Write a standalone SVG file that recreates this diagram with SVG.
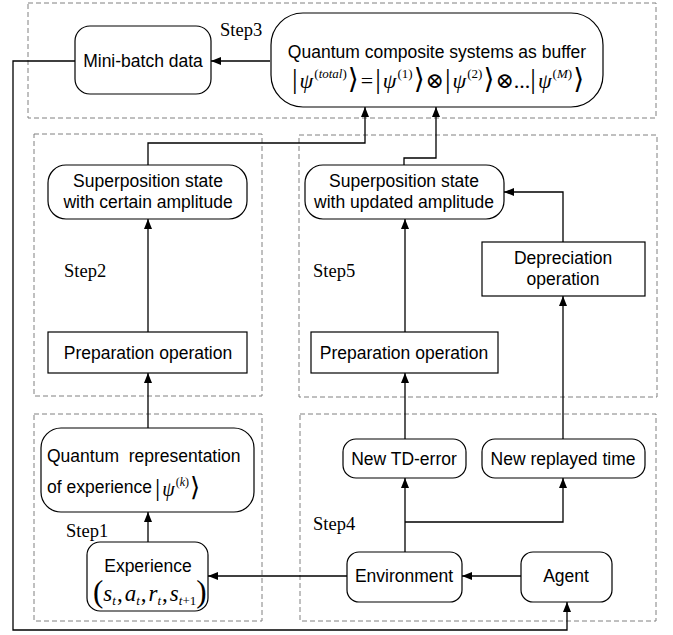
<svg xmlns="http://www.w3.org/2000/svg" width="673" height="635" viewBox="0 0 673 635">
<style>
.bg{fill:#fff}
.dash{fill:none;stroke:#808080;stroke-width:1;stroke-dasharray:5,3}
.node{fill:#fff;stroke:#000;stroke-width:1.2}
.t{font-family:"Liberation Sans",Arial,sans-serif;font-size:17.5px;fill:#000;text-anchor:middle}
.step{font-family:"Liberation Serif","Times New Roman",serif;font-size:18.5px;fill:#000}
.m{font-family:"Liberation Serif","Times New Roman","DejaVu Serif",serif;font-size:22px;fill:#000}
.i{font-style:italic}
.br{font-size:28px;font-weight:normal}
.sup{font-size:13px}
.conn{fill:none;stroke:#000;stroke-width:1.3}
</style>
<defs>
<marker id="arr" viewBox="0 0 10 8" refX="10" refY="4" markerWidth="10" markerHeight="8" markerUnits="userSpaceOnUse" orient="auto">
<path d="M0,0 L10,4 L0,8 Z" fill="#000"/>
</marker>
</defs>
<rect class="bg" x="0" y="0" width="673" height="635"/>

<g id="groups">
<rect class="dash" x="28" y="3" width="628" height="115"/>
<rect class="dash" x="34" y="134" width="228" height="262"/>
<rect class="dash" x="299" y="135" width="358" height="262"/>
<rect class="dash" x="34" y="414" width="228" height="207"/>
<rect class="dash" x="300" y="414" width="356" height="207"/>
<text class="step" x="220" y="36">Step3</text>
<text class="step" x="64" y="277">Step2</text>
<text class="step" x="313" y="277">Step5</text>
<text class="step" x="66" y="537">Step1</text>
<text class="step" x="313" y="530">Step4</text>
</g>

<g id="connectors">
<path class="conn" d="M270,61 L211,61" marker-end="url(#arr)"/>
<path class="conn" d="M75,61 L13,61 L13,630 L567,630 L567,602" marker-end="url(#arr)"/>
<path class="conn" d="M521,576 L462,576" marker-end="url(#arr)"/>
<path class="conn" d="M347,576 L208,576" marker-end="url(#arr)"/>
<path class="conn" d="M405,552 L405,478" marker-end="url(#arr)"/>
<path class="conn" d="M405,522 L563,522 L563,478" marker-end="url(#arr)"/>
<path class="conn" d="M405,439 L405,373" marker-end="url(#arr)"/>
<path class="conn" d="M405,332 L405,219" marker-end="url(#arr)"/>
<path class="conn" d="M563,439 L563,296" marker-end="url(#arr)"/>
<path class="conn" d="M563,242 L563,192 L504,192" marker-end="url(#arr)"/>
<path class="conn" d="M404,165 L404,158 L436,158 L436,107" marker-end="url(#arr)"/>
<path class="conn" d="M148,165 L148,143 L365,143 L365,107" marker-end="url(#arr)"/>
<path class="conn" d="M148,332 L148,219" marker-end="url(#arr)"/>
<path class="conn" d="M148,428 L148,373" marker-end="url(#arr)"/>
<path class="conn" d="M148,542 L148,512" marker-end="url(#arr)"/>
</g>

<g id="minibatch">
<rect class="node" x="75" y="26" width="136" height="68" rx="15"/>
<text class="t" x="143" y="67">Mini-batch data</text>
</g>

<g id="composite">
<rect class="node" x="271" y="13" width="332" height="94" rx="32"/>
<text class="t" x="437" y="58">Quantum composite systems as buffer</text>
<text class="m" x="292" y="88"><tspan class="br">|</tspan><tspan class="i" dx="2">ψ</tspan><tspan class="sup" dy="-10" dx="1">(<tspan class="i">total</tspan>)</tspan><tspan class="br" dy="10" dx="1">⟩</tspan><tspan dx="2">=</tspan><tspan class="br" dx="2">|</tspan><tspan class="i" dx="2">ψ</tspan><tspan class="sup" dy="-10" dx="1">(1)</tspan><tspan class="br" dy="10" dx="1">⟩</tspan><tspan dx="1">⊗</tspan><tspan class="br" dx="1">|</tspan><tspan class="i" dx="2">ψ</tspan><tspan class="sup" dy="-10" dx="1">(2)</tspan><tspan class="br" dy="10" dx="1">⟩</tspan><tspan dx="1">⊗...</tspan><tspan class="br">|</tspan><tspan class="i" dx="2">ψ</tspan><tspan class="sup" dy="-10" dx="1">(<tspan class="i">M</tspan>)</tspan><tspan class="br" dy="10" dx="1">⟩</tspan></text>
</g>

<g id="superpos-certain">
<rect class="node" x="48" y="165" width="199" height="54" rx="18"/>
<text class="t" x="148" y="187">Superposition state</text>
<text class="t" x="148" y="208">with certain amplitude</text>
</g>

<g id="prep-left">
<rect class="node" x="48" y="332" width="199" height="41"/>
<text class="t" x="148" y="359">Preparation operation</text>
</g>

<g id="quantum-rep">
<rect class="node" x="41" y="428" width="213" height="84" rx="20"/>
<text class="t" x="47" y="462" style="text-anchor:start" xml:space="preserve">Quantum  representation</text>
<text class="t" x="47" y="493" style="text-anchor:start">of experience</text>
<text class="m" x="155" y="496" style="font-size:20px"><tspan class="br" style="font-size:26px">|</tspan><tspan class="i" dx="2">ψ</tspan><tspan class="sup" style="font-size:12px" dy="-10" dx="1">(<tspan class="i">k</tspan>)</tspan><tspan class="br" style="font-size:26px" dy="10" dx="1">⟩</tspan></text>
</g>

<g id="experience">
<rect class="node" x="87" y="542" width="121" height="69" rx="13"/>
<text class="t" x="148" y="572">Experience</text>
<text class="m" x="93" y="601" style="font-size:23px"><tspan style="font-size:31px" dy="1">(</tspan><tspan class="i" dy="-1">s</tspan><tspan class="i" style="font-size:13px" dy="4">t</tspan><tspan dy="-4" dx="1">,</tspan><tspan class="i" dx="2">a</tspan><tspan class="i" style="font-size:13px" dy="4">t</tspan><tspan dy="-4" dx="1">,</tspan><tspan class="i" dx="2">r</tspan><tspan class="i" style="font-size:13px" dy="4">t</tspan><tspan dy="-4" dx="1">,</tspan><tspan class="i" dx="2">s</tspan><tspan style="font-size:13px" dy="4"><tspan class="i">t</tspan>+1</tspan><tspan style="font-size:31px" dy="-3">)</tspan></text>
</g>

<g id="superpos-updated">
<rect class="node" x="305" y="165" width="199" height="54" rx="18"/>
<text class="t" x="404" y="187">Superposition state</text>
<text class="t" x="404" y="208">with updated amplitude</text>
</g>

<g id="depreciation">
<rect class="node" x="482" y="242" width="163" height="54"/>
<text class="t" x="563" y="264">Depreciation</text>
<text class="t" x="563" y="285">operation</text>
</g>

<g id="prep-right">
<rect class="node" x="311" y="332" width="187" height="41"/>
<text class="t" x="404" y="359">Preparation operation</text>
</g>

<g id="td-error">
<rect class="node" x="343" y="439" width="123" height="39" rx="13"/>
<text class="t" x="404" y="465">New TD-error</text>
</g>

<g id="replayed">
<rect class="node" x="482" y="439" width="163" height="39" rx="13"/>
<text class="t" x="563" y="465">New replayed time</text>
</g>

<g id="environment">
<rect class="node" x="347" y="552" width="115" height="50" rx="12"/>
<text class="t" x="404" y="582">Environment</text>
</g>

<g id="agent">
<rect class="node" x="521" y="552" width="91" height="50" rx="12"/>
<text class="t" x="566" y="582">Agent</text>
</g>
</svg>
